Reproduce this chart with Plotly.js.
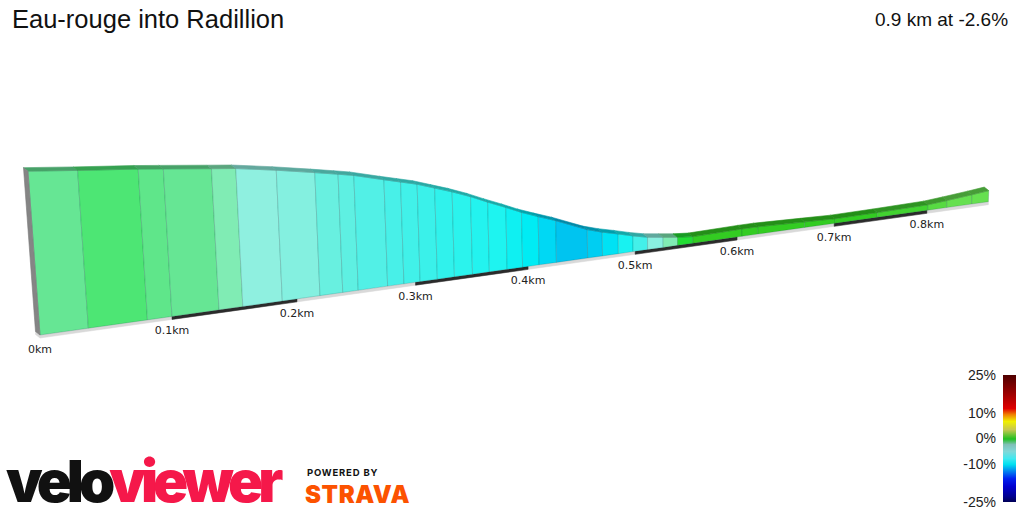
<!DOCTYPE html>
<html><head><meta charset="utf-8">
<script src="https://cdn.plot.ly/plotly-3.0.1.min.js"></script>
<style>html,body{margin:0;padding:0;background:#fff;}#chart{width:1024px;height:512px;}</style>
</head><body><div id="chart"></div>
<script>
// ---------------- DATA ----------------
const titleText = 'Eau-rouge into Radillion';
const summaryText = '0.9 km at -2.6%';
const distanceKm = [0, 0.036, 0.081, 0.100, 0.137, 0.156, 0.188, 0.219, 0.238, 0.251, 0.276, 0.290, 0.304, 0.319, 0.334, 0.350, 0.365, 0.381, 0.395, 0.410, 0.426, 0.455, 0.469, 0.484, 0.498, 0.512, 0.527, 0.541, 0.556, 0.605, 0.621, 0.669, 0.701, 0.746, 0.801, 0.822, 0.850, 0.869];
const elevationM = [405.6, 404.9, 404.1, 403.7, 402.9, 402.5, 401.5, 400.4, 399.7, 399.2, 397.9, 397.2, 396.5, 395.5, 394.5, 393.3, 392.0, 390.7, 389.5, 388.4, 387.3, 385.0, 384.2, 383.5, 382.8, 382.2, 381.8, 381.45, 381.2, 381.35, 381.35, 381.05, 380.85, 380.9, 381.05, 381.35, 381.8, 382.15];
// smoothed gradient of each segment (%), as shown by the colours
const segmentGradePct = [-1.5, -0.5, -1.2, -1.5, -2.5, -3.3, -3.5, -4.0, -4.3, -4.7, -5.0, -5.3, -5.6, -6.0, -6.3, -6.7, -7.0, -7.5, -8.0, -9.0, -10.0, -9.5, -8.5, -7.2, -5.2, -3.4, -2.5, 0.0, 0.5, 0.5, 0.5, 0.5, 0.5, 0.8, 1.2, 1.5, 1.5];
const baseElevationM = 380;
const tickKm = [0, 0.1, 0.2, 0.3, 0.4, 0.5, 0.6, 0.7, 0.8];
const tickLabels = ['0km', '0.1km', '0.2km', '0.3km', '0.4km', '0.5km', '0.6km', '0.7km', '0.8km'];
const legendTickVals = [-25, -10, 0, 10, 25];
const legendTickText = ['-25%', '-10%', '0%', '10%', '25%'];
const legendRange = [-25, 25];

// ---------------- STYLE / PROJECTION ----------------
const A = 135.69, K = 0.028;          // perspective along the route (per 0.1 km)
const X0 = 40, Y0 = 335, SLOPE = 0.1406;
const VSCALE = 6.4;                   // vertical exaggeration, px per metre
const XV = 700, LV = 9000;            // vertical-line convergence
const DEPTH = [-4.5, -3.5];           // slab thickness direction
const PLATE = 3;

function proj(d, elev) {
  const u = d / 0.1;
  const p = A * u / (1 + K * u);
  const bx = X0 + p, by = Y0 - SLOPE * p;
  const s = 1 / (1 + K * u);
  const h = (elev - baseElevationM) * VSCALE * s;
  const lean = (XV - bx) / LV;
  return [bx - h * lean, by - h];
}

const faceStops = [
  [-10, [0,196,240]], [-9, [0,216,244]], [-8, [0,236,244]], [-7, [30,244,240]],
  [-6, [48,242,236]], [-5, [72,240,232]], [-4, [104,240,224]], [-3.3, [143,240,224]],
  [-2.5, [128,236,180]], [-1.5, [102,230,148]], [-0.5, [77,230,116]], [0, [34,221,51]],
  [0.5, [51,204,34]], [1.5, [102,224,80]]
];
function faceRGB(g) {
  if (g <= faceStops[0][0]) return faceStops[0][1];
  for (let i = 1; i < faceStops.length; i++) {
    if (g <= faceStops[i][0]) {
      const [g0, c0] = faceStops[i-1], [g1, c1] = faceStops[i];
      const t = (g - g0) / (g1 - g0);
      return c0.map((v, j) => Math.round(v + (c1[j] - v) * t));
    }
  }
  return faceStops[faceStops.length-1][1];
}
const rgb = c => `rgb(${c[0]},${c[1]},${c[2]})`;
const shade = (c, f) => c.map(v => Math.round(v * f));

const legendScale = [
  [0, '#000050'], [0.048, '#000090'], [0.126, '#0000d0'], [0.188, '#0020f0'],
  [0.244, '#0080f0'], [0.30, '#00e0f0'], [0.346, '#40e8f0'], [0.402, '#80d8d8'],
  [0.456, '#80c0b8'], [0.5, '#20c020'], [0.574, '#c8c850'], [0.638, '#f0f000'],
  [0.692, '#f08000'], [0.74, '#e00000'], [0.85, '#a00000'], [1, '#500000']
];

// ---------------- TRACES ----------------
const traces = [];
const last = distanceKm.length - 1;
const poly = (pts, fill, line, lw) => ({
  type: 'scatter', mode: 'lines', x: pts.map(p => p[0]).concat([pts[0][0]]),
  y: pts.map(p => p[1]).concat([pts[0][1]]), fill: 'toself', fillcolor: fill,
  line: {color: line, width: lw}, hoverinfo: 'skip', showlegend: false, xaxis: 'x', yaxis: 'y'
});
const down = (p, k) => [p[0], p[1] + k];
const add = (p, v) => [p[0] + v[0], p[1] + v[1]];

// base plate
const b0 = proj(distanceKm[0], baseElevationM), b1 = proj(distanceKm[last], baseElevationM);
traces.push(poly([add(b0, DEPTH), b0, b1, down(b1, PLATE), down(b0, PLATE), down(add(b0, DEPTH), PLATE)], '#d9d9d9', '#d9d9d9', 0.5));
for (let i = 1; i < tickKm.length - 1; i += 2) {
  const p = proj(tickKm[i], baseElevationM), q = proj(tickKm[i+1], baseElevationM);
  traces.push(poly([p, q, down(q, PLATE), down(p, PLATE)], '#2b2b2b', '#2b2b2b', 0.5));
}
// front faces
for (let i = 0; i < last; i++) {
  const c = faceRGB(segmentGradePct[i]);
  const pts = [proj(distanceKm[i], baseElevationM), proj(distanceKm[i+1], baseElevationM),
               proj(distanceKm[i+1], elevationM[i+1]), proj(distanceKm[i], elevationM[i])];
  traces.push(poly(pts, rgb(c), 'rgba(0,60,60,0.18)', 1));
}
// top bands
for (let i = 0; i < last; i++) {
  const c = shade(faceRGB(segmentGradePct[i]), 0.7);
  const t0 = proj(distanceKm[i], elevationM[i]), t1 = proj(distanceKm[i+1], elevationM[i+1]);
  traces.push(poly([t0, t1, add(t1, DEPTH), add(t0, DEPTH)], rgb(c), rgb(c), 0.6));
}
// left end face
const l0 = proj(distanceKm[0], baseElevationM), lt = proj(distanceKm[0], elevationM[0]);
traces.push(poly([l0, lt, add(lt, DEPTH), add(l0, DEPTH)], '#858585', '#7a7a7a', 0.6));
// tick labels
traces.push({
  type: 'scatter', mode: 'text', x: tickKm.map(d => proj(d, baseElevationM)[0]),
  y: tickKm.map(d => proj(d, baseElevationM)[1] + 15), text: tickLabels,
  textfont: {family: 'DejaVu Sans, Verdana, sans-serif', size: 11, color: '#222'},
  hoverinfo: 'skip', showlegend: false, xaxis: 'x', yaxis: 'y'
});
// gradient legend
traces.push({
  type: 'heatmap', x: [0, 1], y: legendRange, z: [[legendRange[0], legendRange[0]], [legendRange[1], legendRange[1]]],
  zmin: legendRange[0], zmax: legendRange[1], colorscale: legendScale, showscale: false,
  zsmooth: 'best', hoverinfo: 'skip', xaxis: 'x2', yaxis: 'y2'
});

const layout = {
  width: 1024, height: 512, margin: {l: 0, r: 0, t: 0, b: 0},
  paper_bgcolor: '#fff', plot_bgcolor: 'rgba(0,0,0,0)', showlegend: false,
  title: {text: titleText, x: 12/1024, xref: 'paper', xanchor: 'left', y: 1 - 19/512, yref: 'paper', yanchor: 'middle',
          font: {family: 'Arial, Liberation Sans, sans-serif', size: 25.5, color: '#111'}},
  xaxis: {range: [0, 1024], visible: false, fixedrange: true, domain: [0, 1]},
  yaxis: {range: [512, 0], visible: false, fixedrange: true, domain: [0, 1]},
  xaxis2: {domain: [1003/1024, 1016/1024], range: [0, 1], visible: false, anchor: 'y2', fixedrange: true},
  yaxis2: {domain: [10/512, 137/512], range: legendRange, anchor: 'x2', side: 'left', tickvals: legendTickVals,
           ticktext: legendTickText, ticks: '', showgrid: false, zeroline: false, showline: false,
           ticklabelstandoff: 6, tickfont: {family: 'Arial, Liberation Sans, sans-serif', size: 14, color: '#222'}, fixedrange: true},
  annotations: [
    {xref: 'x', yref: 'y', x: 1010, y: 19, xanchor: 'right', yanchor: 'middle', showarrow: false, text: summaryText,
     font: {family: 'Arial, Liberation Sans, sans-serif', size: 19, color: '#111'}},
    {xref: 'x', yref: 'y', x: 4, y: 481, xanchor: 'left', yanchor: 'middle', showarrow: false,
     text: '<span style="letter-spacing:-5px">velo</span><span style="color:#f5184a;letter-spacing:-5px">viewer</span>',
     font: {family: 'Inter, Roboto, sans-serif', size: 58, weight: 900, color: '#111'}},
    {xref: 'x', yref: 'y', x: 305, y: 472, xanchor: 'left', yanchor: 'middle', showarrow: false,
     text: '<span style="letter-spacing:0.8px">POWERED BY</span>',
     font: {family: 'Inter, Roboto, sans-serif', size: 9.5, weight: 700, color: '#111'}},
    {xref: 'x', yref: 'y', x: 303, y: 494, xanchor: 'left', yanchor: 'middle', showarrow: false,
     text: '<span style="letter-spacing:0.6px">STRAVA</span>', font: {family: 'Inter, Roboto, sans-serif', size: 24, weight: 900, color: '#fc5200'}}
  ]
};
Plotly.newPlot('chart', traces, layout, {staticPlot: true, displayModeBar: false});
</script></body></html>
